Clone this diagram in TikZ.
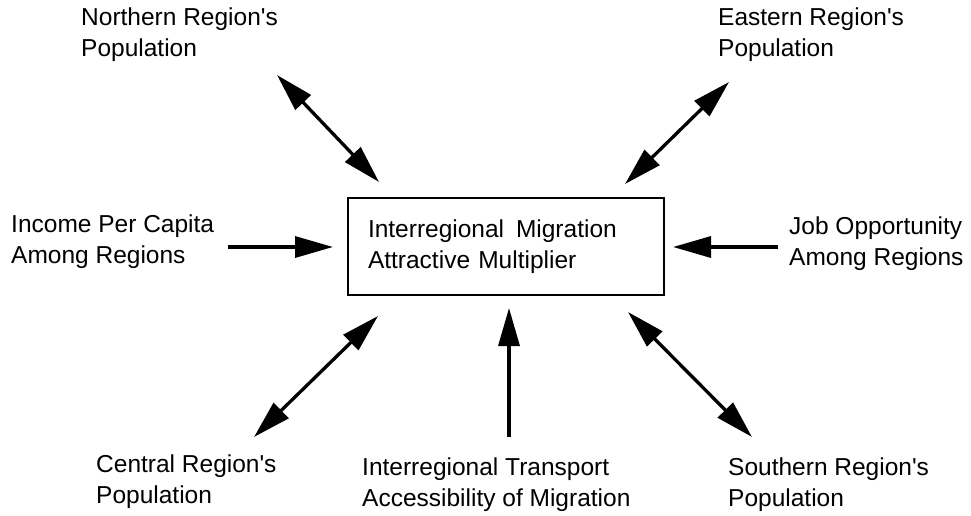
\documentclass[tikz,border=0pt]{standalone}
\usepackage{fontspec}
\newfontfamily\lblfont{Liberation Sans}
\usetikzlibrary{arrows.meta}
\tikzset{
  lbl/.style={anchor=base west, align=left, inner sep=0pt, font=\lblfont\fontsize{24.5}{31}\selectfont},
  conn/.style={line width=3.3pt, -{Triangle[length=38pt,width=21pt]}},
  dconn/.style={line width=3.3pt, {Triangle[length=38pt,width=21pt]}-{Triangle[length=38pt,width=21pt]}},
  mainbox/.style={draw, line width=2.8pt, minimum width=316pt, minimum height=97pt, text width=276pt, inner xsep=20pt, align=left, font=\lblfont\fontsize{24.5}{31}\selectfont}
}
\begin{document}
\begin{tikzpicture}[x=1pt,y=-1pt]
\useasboundingbox[fill=white] (0,0) rectangle (971,516);
\node[mainbox] (box) at (506,246.5) {Interregional\hspace{0.15em} Migration\\Attractive Multiplier};
\node[lbl] (north) at (81,57) {Northern Region's\\Population};
\node[lbl] (east) at (718,57) {Eastern Region's\\Population};
\node[lbl] (income) at (11,263) {Income Per Capita\\Among Regions};
\node[lbl] (job) at (789,265) {Job Opportunity\\Among Regions};
\node[lbl] (central) at (96,503) {Central Region's\\Population};
\node[lbl] (transport) at (362,506) {Interregional Transport\\Accessibility of Migration};
\node[lbl] (south) at (728,506) {Southern Region's\\Population};
\coordinate (n1) at (277,75); \coordinate (n2) at (379,182);
\coordinate (e1) at (729,82); \coordinate (e2) at (625,184);
\coordinate (i1) at (228,247); \coordinate (i2) at (333,247);
\coordinate (j1) at (778,247); \coordinate (j2) at (673,247);
\coordinate (c1) at (254,437); \coordinate (c2) at (378,316);
\coordinate (t1) at (509,437); \coordinate (t2) at (509,308);
\coordinate (s1) at (752,437); \coordinate (s2) at (628,312);
\draw[dconn] (n1) -- (n2);
\draw[dconn] (e1) -- (e2);
\draw[conn] (i1) -- (i2);
\draw[conn] (j1) -- (j2);
\draw[dconn] (c1) -- (c2);
\draw[conn] (t1) -- (t2);
\draw[dconn] (s1) -- (s2);
\end{tikzpicture}
\end{document}
